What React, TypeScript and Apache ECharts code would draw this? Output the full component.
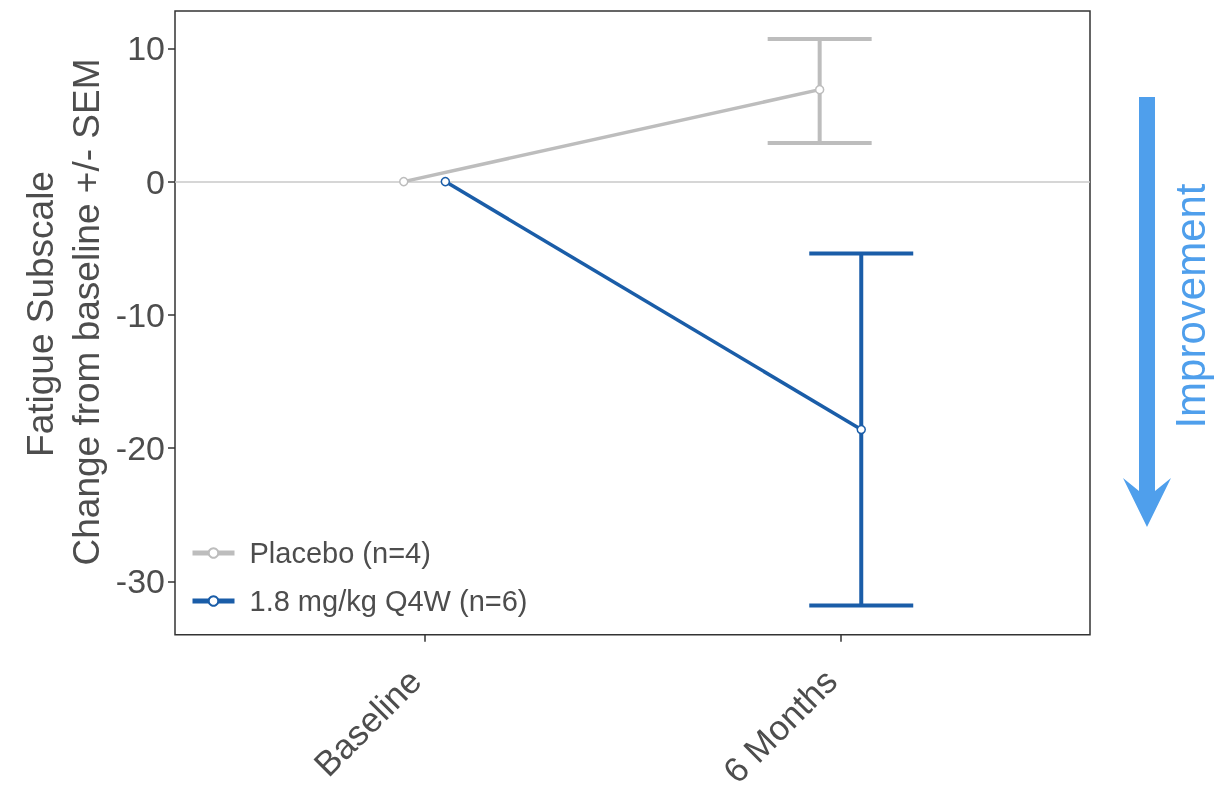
import { useEffect, useRef } from 'react';
import * as echarts from 'echarts';

const categories = ['Baseline', '6 Months'];
const seriesNames = ['Placebo (n=4)', '1.8 mg/kg Q4W (n=6)'];
const placeboMean = [0, 6.9];
const placeboLower = [0, 2.9];
const placeboUpper = [0, 10.7];
const treatedMean = [0, -18.6];
const treatedLower = [0, -31.8];
const treatedUpper = [0, -5.4];
const yTicks = [-30, -20, -10, 0, 10];
const yTitleLines = ['Fatigue Subscale', 'Change from baseline +/- SEM'];
const arrowLabel = 'Improvement';

const FONT = '"Liberation Sans", Arial, sans-serif';
const TEXT = '#4d4d4d';
const GRAY = '#bdbdbd';
const BLUE = '#1a5da8';
const ARROW = '#4f9fec';
const DODGE = 0.05;

function toPoints(mean: number[], offset: number) {
  return mean.map((v, i) => [i + 1 + offset, v]);
}

function toBars(lower: number[], upper: number[], offset: number) {
  const out: number[][] = [];
  lower.forEach((lo, i) => {
    if (upper[i] !== lo) out.push([i + 1 + offset, lo, upper[i]]);
  });
  return out;
}

function errorBar(color: string) {
  return (params: any, api: any) => {
    const x = api.value(0);
    const lo = api.coord([x, api.value(1)]);
    const hi = api.coord([x, api.value(2)]);
    const half = api.size([0.125, 0])[0];
    const style = { stroke: color, lineWidth: 4 };
    return {
      type: 'group',
      children: [
        { type: 'line', shape: { x1: hi[0], y1: hi[1], x2: lo[0], y2: lo[1] }, style },
        { type: 'line', shape: { x1: hi[0] - half, y1: hi[1], x2: hi[0] + half, y2: hi[1] }, style },
        { type: 'line', shape: { x1: lo[0] - half, y1: lo[1], x2: lo[0] + half, y2: lo[1] }, style },
      ],
    };
  };
}

export default function App() {
  const ref = useRef<HTMLDivElement>(null);
  useEffect(() => {
    if (!ref.current) return;
    const chart = echarts.init(ref.current, null, { renderer: 'svg' });
    const option: any = {
      animation: false,
      textStyle: { fontFamily: FONT },
      grid: {
        left: 175,
        right: 138,
        top: 11,
        bottom: 156,
        show: true,
        borderColor: '#333333',
        borderWidth: 1.5,
        backgroundColor: 'transparent',
      },
      xAxis: {
        type: 'value',
        min: 0.4,
        max: 2.6,
        axisLine: { show: false, onZero: false },
        splitLine: { show: false },
        axisTick: { show: true, customValues: [1, 2], length: 7, lineStyle: { color: '#333333', width: 1.5 } },
        axisLabel: {
          customValues: [1, 2],
          formatter: (v: number) => categories[Math.round(v) - 1] ?? '',
          rotate: 45,
          margin: 30,
          fontSize: 35,
          color: TEXT,
          fontFamily: FONT,
          padding: [0, 14, 0, 0],
        },
      },
      yAxis: {
        type: 'value',
        min: -34,
        max: 12.8,
        axisLine: { show: false, onZero: false },
        splitLine: { show: false },
        axisTick: { show: true, customValues: yTicks, length: 7, lineStyle: { color: '#333333', width: 1.5 } },
        axisLabel: {
          customValues: yTicks,
          margin: 10,
          fontSize: 34,
          color: TEXT,
          fontFamily: FONT,
        },
      },
      legend: {
        data: seriesNames,
        orient: 'vertical',
        left: 190,
        top: 538,
        padding: 0,
        itemWidth: 42,
        itemHeight: 12,
        itemGap: 18,
        textStyle: { fontSize: 29, color: TEXT, fontFamily: FONT, lineHeight: 30, padding: [0, 0, 0, 10] },
        lineStyle: { width: 5 },
      },
      series: [
        {
          type: 'custom',
          name: 'placeboErr',
          renderItem: errorBar(GRAY),
          data: toBars(placeboLower, placeboUpper, -DODGE),
          encode: { x: 0, y: [1, 2] },
          z: 2,
          silent: true,
          markLine: {
            silent: true,
            symbol: ['none', 'none'],
            label: { show: false },
            lineStyle: { color: '#c8c8c8', width: 1.5, type: 'solid' },
            data: [{ yAxis: 0 }],
            z: 1,
          },
        },
        {
          type: 'custom',
          name: 'treatedErr',
          renderItem: errorBar(BLUE),
          data: toBars(treatedLower, treatedUpper, DODGE),
          encode: { x: 0, y: [1, 2] },
          z: 2,
          silent: true,
        },
        {
          type: 'line',
          name: seriesNames[0],
          data: toPoints(placeboMean, -DODGE),
          symbol: 'circle',
          symbolSize: 8,
          lineStyle: { color: GRAY, width: 3.5 },
          itemStyle: { color: '#ffffff', borderColor: GRAY, borderWidth: 1.5 },
          z: 3,
        },
        {
          type: 'line',
          name: seriesNames[1],
          data: toPoints(treatedMean, DODGE),
          symbol: 'circle',
          symbolSize: 8,
          lineStyle: { color: BLUE, width: 3.5 },
          itemStyle: { color: '#ffffff', borderColor: BLUE, borderWidth: 1.5 },
          z: 3,
        },
      ],
      graphic: [
        {
          type: 'text',
          x: 40,
          y: 314,
          rotation: Math.PI / 2,
          style: { text: yTitleLines[0], fontSize: 37, fill: TEXT, fontFamily: FONT, align: 'center', verticalAlign: 'middle' },
        },
        {
          type: 'text',
          x: 86,
          y: 312,
          rotation: Math.PI / 2,
          style: { text: yTitleLines[1], fontSize: 37, fill: TEXT, fontFamily: FONT, align: 'center', verticalAlign: 'middle' },
        },
        {
          type: 'rect',
          shape: { x: 1139, y: 97, width: 16, height: 396 },
          style: { fill: ARROW },
        },
        {
          type: 'polygon',
          shape: { points: [[1123, 478], [1139, 491], [1155, 491], [1171, 478], [1147, 527]] },
          style: { fill: ARROW },
        },
        {
          type: 'text',
          x: 1190,
          y: 306,
          rotation: Math.PI / 2,
          style: { text: arrowLabel, fontSize: 42, fill: ARROW, fontFamily: FONT, align: 'center', verticalAlign: 'middle' },
        },
      ],
    };
    chart.setOption(option);
    return () => chart.dispose();
  }, []);
  return <div ref={ref} style={{ position: 'fixed', left: 0, top: 0, width: 1228, height: 791 }} />;
}
